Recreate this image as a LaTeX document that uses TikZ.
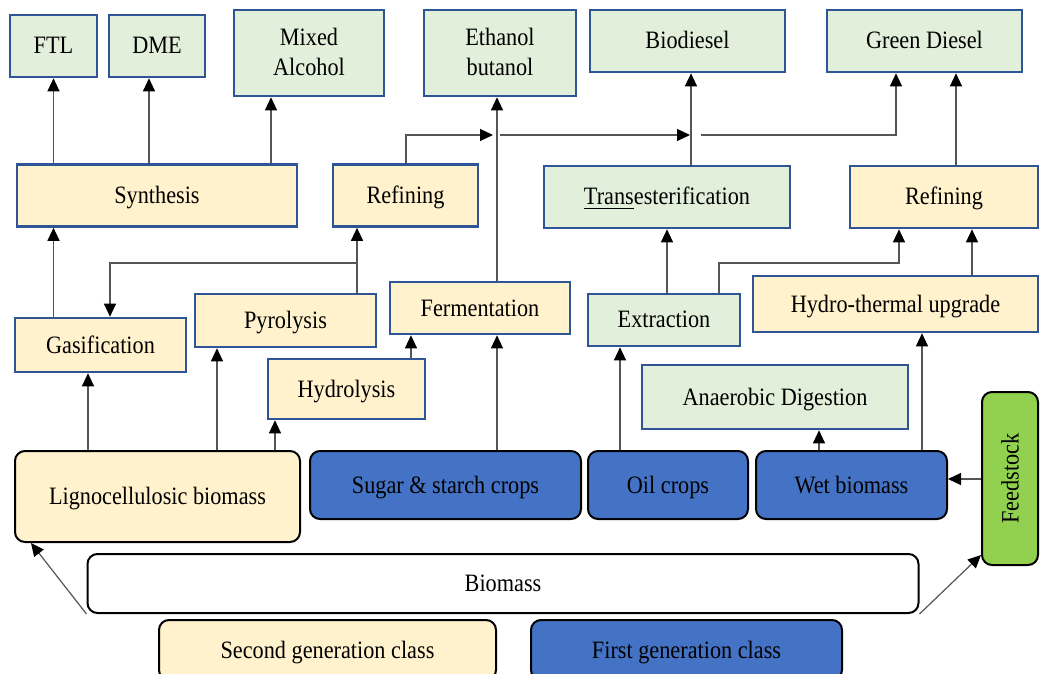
\documentclass[tikz,border=0pt]{standalone}
\usepackage{fontspec}
\setmainfont{Liberation Serif}[FakeStretch=0.89]
\usetikzlibrary{arrows.meta}

\definecolor{BoxYellow}{HTML}{FFF2CC}
\definecolor{BoxGreen}{HTML}{E2EFDA}
\definecolor{BoxBlue}{HTML}{4472C4}
\definecolor{EdgeBlue}{HTML}{2F5597}
\definecolor{FeedGreen}{HTML}{92D050}
\definecolor{LineGray}{HTML}{555555}

\tikzset{
  procbox/.style={draw=EdgeBlue, line width=1.3pt, inner sep=0pt, align=center,
    text height=10pt, text depth=2pt, font=\fontsize{12.5}{15}\selectfont},
  yel/.style={procbox, fill=BoxYellow},
  grn/.style={procbox, fill=BoxGreen},
  twoline/.style={text height=25pt, text depth=2pt},
  srcbox/.style={draw=black, line width=1pt, rounded corners=5pt, inner sep=0pt, align=center,
    font=\fontsize{12.5}{15}\selectfont},
  src/.style={srcbox, text height=10pt, text depth=2pt},
  flow/.style={-{Triangle[length=6.5pt,width=6pt,color=black]}, draw=LineGray, line width=0.6pt},
}

\begin{document}
\begin{tikzpicture}[x=0.5pt, y=-0.5pt]
 \useasboundingbox (0,0) rectangle (1040,674);

 %%%%%%%%%% Products %%%%%%%%%%
 \node[grn, minimum width=43.5pt, minimum height=31pt] (ftl) at (53.5,46) {FTL};
 \node[grn, minimum width=48pt, minimum height=31pt] (dme) at (157,46) {DME};
 \node[grn, twoline, minimum width=75pt, minimum height=43pt] (mixalc) at (309,53) {Mixed\\Alcohol};
 \node[grn, twoline, minimum width=76pt, minimum height=43pt] (ethbut) at (500,53) {Ethanol\\butanol};
 \node[grn, minimum width=97.5pt, minimum height=31pt] (biodsl) at (687.5,41) {Biodiesel};
 \node[grn, minimum width=97.5pt, minimum height=31pt] (grndsl) at (924.5,41) {Green Diesel};

 %%%%%%%%%% Upgrading %%%%%%%%%%
 \node[yel, minimum width=140pt, minimum height=31pt] (synth) at (157,195.5) {Synthesis};
 \node[yel, minimum width=72.5pt, minimum height=31pt] (refA) at (405.5,195.5) {Refining};
 \node[grn, minimum width=123pt, minimum height=31pt] (trans) at (667,197) {\underline{Trans}esterification};
 \node[yel, minimum width=94pt, minimum height=31pt] (refB) at (944,197) {Refining};

 %%%%%%%%%% Conversion %%%%%%%%%%
 \node[yel, minimum width=85.5pt, minimum height=27pt] (gasif) at (100.5,345) {Gasification};
 \node[yel, minimum width=90.5pt, minimum height=26.5pt] (pyro) at (285.5,320.5) {Pyrolysis};
 \node[yel, minimum width=90pt, minimum height=26pt] (ferm) at (480,308) {Fermentation};
 \node[yel, minimum width=78.5pt, minimum height=30pt] (hydro) at (346.5,389) {Hydrolysis};
 \node[grn, minimum width=76pt, minimum height=26pt] (extr) at (664,320) {Extraction};
 \node[yel, minimum width=142.5pt, minimum height=28pt] (htu) at (895.5,304) {Hydro-thermal upgrade};
 \node[grn, minimum width=133pt, minimum height=32pt] (anaer) at (775,397) {Anaerobic Digestion};

 %%%%%%%%%% Feedstock %%%%%%%%%%
 \node[src, fill=BoxYellow, minimum width=142.5pt, minimum height=45.5pt] (ligno) at (157.5,496.5) {Lignocellulosic biomass};
 \node[src, fill=BoxBlue, minimum width=135.5pt, minimum height=34pt] (sugar) at (445.5,485) {Sugar \& starch crops};
 \node[src, fill=BoxBlue, minimum width=80pt, minimum height=34pt] (oil) at (668,485) {Oil crops};
 \node[src, fill=BoxBlue, minimum width=95.5pt, minimum height=34pt] (wet) at (851.5,485) {Wet biomass};
 \node[srcbox, fill=FeedGreen, minimum width=28pt, minimum height=86.5pt] (feed) at (1010,478.5) {\rotatebox{90}{Feedstock}};
 \node[src, fill=white, minimum width=415.5pt, minimum height=29.5pt] (biomass) at (503,583.5) {Biomass};

 % Legend
 \node[src, fill=BoxYellow, minimum width=168.5pt, minimum height=30pt] (secgen) at (327.5,650) {Second generation class};
 \node[src, fill=BoxBlue, minimum width=155.5pt, minimum height=30pt] (firstgen) at (686.5,650) {First generation class};

 %%%%%%%%%% Points pour les lignes %%%%%%%%%%
 \coordinate (pyrsplit) at (357,263);
 \coordinate (extsplit) at (719,263);
 \coordinate (jmpA) at (493,135);
 \coordinate (jmpB) at (500,135);
 \coordinate (jmpC) at (690,135);
 \coordinate (jmpD) at (701,135);

 %%%%%%%%%% Arrows %%%%%%%%%%
 \draw[flow] (synth.north -| 53.5,0) -- (ftl.south -| 53.5,0);
 \draw[flow] (synth.north -| 149,0) -- (dme.south -| 149,0);
 \draw[flow] (synth.north -| 271,0) -- (mixalc.south -| 271,0);
 \draw[flow] (gasif.north -| 53.5,0) -- (synth.south -| 53.5,0);
 \draw[flow] (pyro.north -| pyrsplit) -- (refA.south -| pyrsplit);
 \draw[flow] (pyrsplit) -| (gasif.north -| 110,0);
 \draw[flow] (hydro.north -| 411,0) -- (ferm.south -| 411,0);
 \draw[flow] (ferm.north -| 497,0) -- (ethbut.south -| 497,0);
 \draw[flow] (refA.north -| 406,0) |- (jmpA);
 \draw[flow] (jmpB) -- (jmpC);
 \draw[flow] (jmpD) -| (grndsl.south -| 896,0);
 \draw[flow] (trans.north -| 691,0) -- (biodsl.south -| 691,0);
 \draw[flow] (refB.north -| 956,0) -- (grndsl.south -| 956,0);
 \draw[flow] (extr.north -| 667,0) -- (trans.south -| 667,0);
 \draw[flow] (extr.north -| extsplit) -- (extsplit) -| (refB.south -| 899,0);
 \draw[flow] (htu.north -| 972,0) -- (refB.south -| 972,0);

 \draw[flow] (ligno.north -| 88,0) -- (gasif.south -| 88,0);
 \draw[flow] (ligno.north -| 217,0) -- (pyro.south -| 217,0);
 \draw[flow] (ligno.north -| 275,0) -- (hydro.south -| 275,0);
 \draw[flow] (sugar.north -| 497,0) -- (ferm.south -| 497,0);
 \draw[flow] (oil.north -| 620,0) -- (extr.south -| 620,0);
 \draw[flow] (wet.north -| 819,0) -- (anaer.south -| 819,0);
 \draw[flow] (wet.north -| 922,0) -- (htu.south -| 922,0);
 \draw[flow] (feed.west |- 0,479) -- (wet.east |- 0,479);

 \draw[flow] (biomass.south west) -- (ligno.south -| 31,0);
 \draw[flow] (biomass.south east) -- (feed.west |- 0,555);

\end{tikzpicture}
\end{document}
